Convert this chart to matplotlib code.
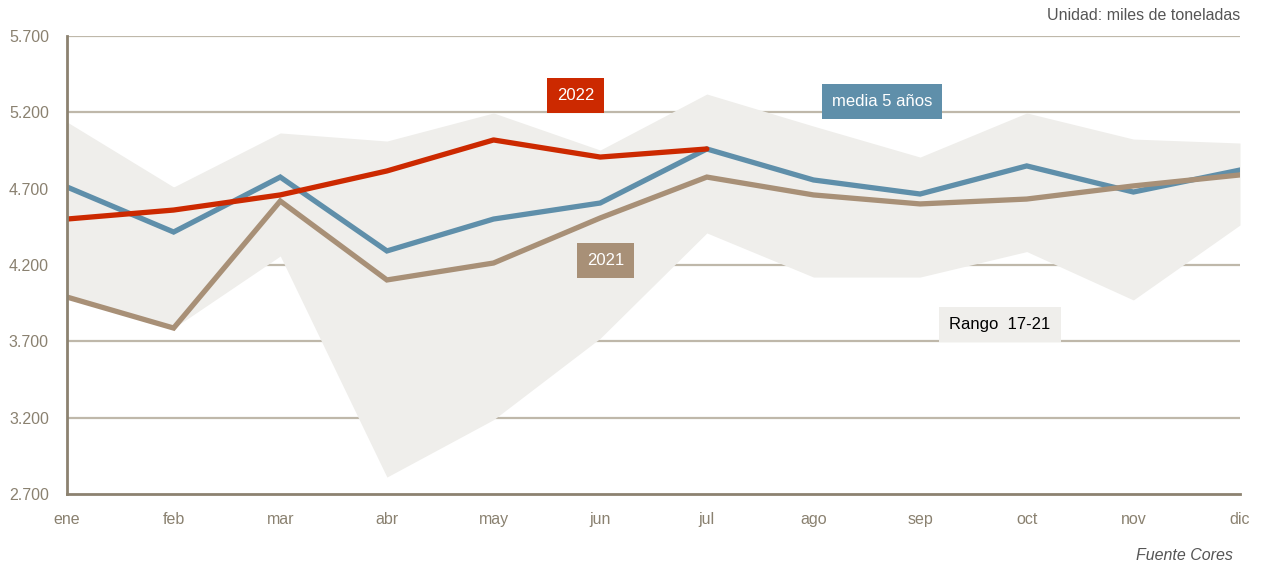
import matplotlib
matplotlib.use("Agg")
import matplotlib.pyplot as plt
from matplotlib.ticker import FuncFormatter

months = ["ene", "feb", "mar", "abr", "may", "jun", "jul", "ago", "sep", "oct", "nov", "dic"]
y2022 = [4501, 4560, 4659, 4816, 5019, 4907, 4960]
media5 = [4711, 4416, 4776, 4292, 4501, 4606, 4960, 4757, 4665, 4849, 4678, 4822]
y2021 = [3990, 3787, 4619, 4102, 4213, 4508, 4776, 4659, 4600, 4632, 4718, 4790]
range_hi = [5137, 4711, 5065, 5012, 5196, 4953, 5320, 5110, 4907, 5196, 5025, 4999]
range_lo = [3990, 3787, 4259, 2811, 3187, 3720, 4410, 4121, 4121, 4288, 3971, 4462]
yticks = [2700, 3200, 3700, 4200, 4700, 5200, 5700]

C_RED = "#CC2900"
C_BLUE = "#5F8FAA"
C_TAN = "#A89077"
C_FILL = "#EFEEEB"
C_GRID = "#BFB8AA"
C_AXIS = "#8C8270"
C_TXT = "#8A8170"

plt.rcParams["font.family"] = ["Liberation Sans", "DejaVu Sans"]

fig = plt.figure(figsize=(12.64, 5.68), dpi=100)
ax = fig.add_axes([67 / 1264, 1 - 494 / 568, (1240 - 67) / 1264, (494 - 36) / 568])

x = list(range(len(months)))
ax.set_xlim(0, len(months) - 1)
ax.set_ylim(yticks[0], yticks[-1])

for t in yticks[1:]:
    ax.axhline(t, color=C_GRID, lw=1.6, zorder=0)

ax.fill_between(x, range_lo, range_hi, color=C_FILL, lw=0, zorder=1)
ax.plot(x, media5, color=C_BLUE, lw=3.8, zorder=3, solid_joinstyle="miter")
ax.plot(x, y2021, color=C_TAN, lw=3.8, zorder=4, solid_joinstyle="miter")
ax.plot(x[:len(y2022)], y2022, color=C_RED, lw=3.8, zorder=5, solid_capstyle="round", solid_joinstyle="round")

for s in ["top", "right"]:
    ax.spines[s].set_visible(False)
for s in ["left", "bottom"]:
    ax.spines[s].set_color(C_AXIS)
    ax.spines[s].set_linewidth(2)
    ax.spines[s].set_zorder(6)

ax.set_xticks(x)
ax.set_xticklabels(months)
ax.set_yticks(yticks)
ax.yaxis.set_major_formatter(FuncFormatter(lambda v, p: f"{int(v):,}".replace(",", ".")))
ax.tick_params(axis="both", length=0, colors=C_TXT, labelsize=11.5)
ax.tick_params(axis="y", pad=13)
ax.tick_params(axis="x", pad=13)

def label(xv, yv, text, bg, fg):
    ax.text(xv, yv, text, ha="center", va="center", fontsize=12, color=fg, zorder=7,
            bbox=dict(boxstyle="square,pad=0.6", fc=bg, ec="none"))

label(4.77, 5307, "2022", C_RED, "white")
label(7.64, 5268, "media 5 años", C_BLUE, "white")
label(5.05, 4227, "2021", C_TAN, "white")
label(8.75, 3807, "Rango  17-21", C_FILL, "black")

fig.text(1240 / 1264, 1 - 16 / 568, "Unidad: miles de toneladas", ha="right", va="center",
         fontsize=11.5, color="#555555")
fig.text(1233 / 1264, 1 - 556 / 568, "Fuente Cores", ha="right", va="center",
         fontsize=11.5, color="#555555", style="italic")

fig.savefig("out.png", dpi=100)
